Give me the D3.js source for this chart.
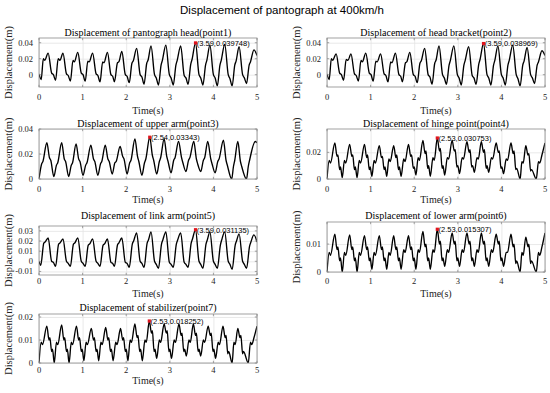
<!DOCTYPE html>
<html>
<head>
<meta charset="utf-8">
<script src="https://cdn.jsdelivr.net/npm/d3@7"></script>
<style>
  body { margin: 0; background: #fff; }
  svg { display: block; }
</style>
</head>
<body>
<svg id="fig" width="550" height="393"></svg>
<script>
`use strict`;

// --- data: [time (s), displacement (m)] ---

const head1 = [
  [0.00, 0.001], [0.05, -0.006], [0.10, 0.020], [0.13, 0.018], [0.21, 0.027], [0.29, 0.002], [0.33, 0.000], [0.38, -0.007],
  [0.44, 0.020], [0.48, 0.018], [0.55, 0.027], [0.63, 0.001], [0.67, -0.001], [0.72, -0.008],
  [0.78, 0.018], [0.81, 0.016], [0.89, 0.028], [0.97, 0.002], [1.01, 0.000], [1.06, -0.008],
  [1.12, 0.017], [1.15, 0.016], [1.23, 0.027], [1.31, 0.001], [1.35, -0.001], [1.40, -0.009],
  [1.46, 0.016], [1.49, 0.015], [1.57, 0.028], [1.65, 0.000], [1.69, -0.002], [1.73, -0.009],
  [1.80, 0.015], [1.83, 0.016], [1.90, 0.029], [1.98, 0.000], [2.02, -0.002], [2.07, -0.010],
  [2.13, 0.014], [2.16, 0.017], [2.24, 0.033], [2.32, 0.000], [2.36, -0.003], [2.41, -0.012],
  [2.47, 0.014], [2.50, 0.018], [2.57, 0.036], [2.65, 0.000], [2.69, -0.004], [2.74, -0.013],
  [2.80, 0.012], [2.83, 0.018], [2.91, 0.037], [2.99, 0.000], [3.03, -0.004], [3.08, -0.013],
  [3.14, 0.012], [3.17, 0.018], [3.25, 0.036], [3.33, -0.001], [3.37, -0.004], [3.42, -0.012],
  [3.48, 0.013], [3.51, 0.019], [3.59, 0.039748], [3.67, 0.000], [3.71, -0.004], [3.76, -0.013],
  [3.82, 0.012], [3.85, 0.018], [3.92, 0.037], [4.00, 0.000], [4.04, -0.004], [4.09, -0.014],
  [4.15, 0.012], [4.18, 0.018], [4.26, 0.038], [4.34, 0.000], [4.38, -0.005], [4.43, -0.014],
  [4.49, 0.012], [4.52, 0.017], [4.59, 0.035], [4.67, 0.000], [4.71, -0.004], [4.76, -0.011],
  [4.82, 0.012], [4.85, 0.016], [4.93, 0.031], [5.00, 0.024]
];

const bracket2 = [
  [0.00, 0.001], [0.05, -0.006], [0.10, 0.020], [0.13, 0.018], [0.21, 0.026], [0.29, 0.002], [0.33, 0.000], [0.38, -0.007],
  [0.44, 0.019], [0.48, 0.018], [0.55, 0.026], [0.63, 0.001], [0.67, -0.001], [0.72, -0.008],
  [0.78, 0.018], [0.81, 0.016], [0.89, 0.027], [0.97, 0.002], [1.01, 0.000], [1.06, -0.008],
  [1.12, 0.017], [1.15, 0.016], [1.23, 0.026], [1.31, 0.001], [1.35, -0.001], [1.40, -0.009],
  [1.46, 0.016], [1.49, 0.015], [1.57, 0.027], [1.65, 0.000], [1.69, -0.002], [1.73, -0.009],
  [1.80, 0.015], [1.83, 0.016], [1.90, 0.028], [1.98, 0.000], [2.02, -0.002], [2.07, -0.010],
  [2.13, 0.014], [2.16, 0.017], [2.24, 0.033], [2.32, 0.000], [2.36, -0.003], [2.41, -0.012],
  [2.47, 0.014], [2.50, 0.018], [2.57, 0.036], [2.65, 0.000], [2.69, -0.004], [2.74, -0.012],
  [2.80, 0.012], [2.83, 0.018], [2.91, 0.036], [2.99, 0.000], [3.03, -0.004], [3.08, -0.013],
  [3.14, 0.012], [3.17, 0.018], [3.25, 0.035], [3.33, -0.001], [3.37, -0.004], [3.42, -0.012],
  [3.48, 0.013], [3.51, 0.019], [3.59, 0.038969], [3.67, 0.000], [3.71, -0.004], [3.76, -0.013],
  [3.82, 0.012], [3.85, 0.018], [3.92, 0.036], [4.00, 0.000], [4.04, -0.004], [4.09, -0.013],
  [4.15, 0.012], [4.18, 0.018], [4.26, 0.037], [4.34, 0.000], [4.38, -0.005], [4.43, -0.014],
  [4.49, 0.012], [4.52, 0.017], [4.59, 0.034], [4.67, 0.000], [4.71, -0.004], [4.76, -0.011],
  [4.82, 0.012], [4.85, 0.016], [4.93, 0.030], [5.00, 0.024]
];

const upperArm3 = [
  [0.00, 0.000], [0.06, 0.012], [0.09, 0.014], [0.18, 0.029], [0.24, 0.017], [0.27, 0.015], [0.34, 0.002],
  [0.40, 0.011], [0.43, 0.013], [0.52, 0.029], [0.58, 0.016], [0.61, 0.014], [0.68, 0.002],
  [0.74, 0.011], [0.77, 0.013], [0.85, 0.028], [0.91, 0.016], [0.94, 0.014], [1.01, 0.003],
  [1.07, 0.011], [1.10, 0.013], [1.19, 0.027], [1.25, 0.016], [1.28, 0.014], [1.35, 0.003],
  [1.41, 0.012], [1.44, 0.014], [1.52, 0.027], [1.58, 0.016], [1.61, 0.014], [1.68, 0.004],
  [1.74, 0.013], [1.77, 0.014], [1.86, 0.026], [1.92, 0.018], [1.95, 0.016], [2.02, 0.004],
  [2.08, 0.013], [2.11, 0.015], [2.20, 0.032], [2.26, 0.018], [2.29, 0.014], [2.36, 0.003],
  [2.42, 0.013], [2.45, 0.016], [2.54, 0.03343], [2.60, 0.019], [2.63, 0.015], [2.70, 0.004],
  [2.76, 0.014], [2.79, 0.017], [2.87, 0.032], [2.93, 0.018], [2.96, 0.014], [3.03, 0.005],
  [3.09, 0.015], [3.12, 0.017], [3.20, 0.030], [3.27, 0.017], [3.30, 0.013], [3.37, 0.006],
  [3.43, 0.015], [3.46, 0.017], [3.55, 0.030], [3.61, 0.016], [3.64, 0.012], [3.71, 0.006],
  [3.77, 0.015], [3.80, 0.017], [3.87, 0.030], [3.94, 0.016], [3.97, 0.012], [4.04, 0.005],
  [4.10, 0.014], [4.13, 0.016], [4.23, 0.031], [4.29, 0.015], [4.32, 0.011], [4.42, 0.000],
  [4.46, 0.010], [4.49, 0.015], [4.56, 0.030], [4.62, 0.014], [4.65, 0.010], [4.76, 0.000],
  [4.80, 0.010], [4.83, 0.015], [4.96, 0.030], [5.00, 0.029]
];

const hinge4 = [
  [0.00, 0.000], [0.05, 0.014], [0.08, 0.012], [0.18, 0.027], [0.23, 0.017], [0.25, 0.018], [0.29, 0.007], [0.31, 0.009], [0.35, 0.001],
  [0.40, 0.014], [0.43, 0.012], [0.52, 0.026], [0.57, 0.017], [0.59, 0.018], [0.63, 0.007], [0.65, 0.009], [0.69, 0.001],
  [0.74, 0.014], [0.77, 0.012], [0.86, 0.026], [0.91, 0.016], [0.93, 0.018], [0.97, 0.007], [0.99, 0.009], [1.03, 0.002],
  [1.08, 0.014], [1.11, 0.012], [1.20, 0.025], [1.25, 0.016], [1.27, 0.017], [1.31, 0.007], [1.33, 0.009], [1.37, 0.002],
  [1.42, 0.015], [1.45, 0.013], [1.53, 0.025], [1.58, 0.016], [1.60, 0.018], [1.64, 0.007], [1.66, 0.009], [1.70, 0.002],
  [1.76, 0.015], [1.79, 0.013], [1.87, 0.026], [1.92, 0.017], [1.94, 0.018], [1.98, 0.008], [2.00, 0.009], [2.04, 0.003],
  [2.09, 0.016], [2.12, 0.014], [2.20, 0.029], [2.25, 0.019], [2.27, 0.021], [2.31, 0.008], [2.33, 0.010], [2.37, 0.002],
  [2.43, 0.016], [2.46, 0.014], [2.53, 0.030753], [2.58, 0.021], [2.60, 0.023], [2.64, 0.008], [2.66, 0.010], [2.70, 0.003],
  [2.76, 0.016], [2.79, 0.015], [2.87, 0.029], [2.92, 0.021], [2.94, 0.022], [2.98, 0.009], [3.00, 0.010], [3.04, 0.004],
  [3.10, 0.016], [3.13, 0.015], [3.21, 0.028], [3.26, 0.020], [3.28, 0.022], [3.32, 0.009], [3.34, 0.010], [3.38, 0.005],
  [3.44, 0.016], [3.47, 0.015], [3.54, 0.028], [3.59, 0.020], [3.61, 0.022], [3.65, 0.008], [3.67, 0.010], [3.71, 0.005],
  [3.77, 0.016], [3.80, 0.015], [3.88, 0.027], [3.93, 0.020], [3.95, 0.021], [3.99, 0.008], [4.01, 0.009], [4.05, 0.004],
  [4.11, 0.015], [4.14, 0.014], [4.22, 0.027], [4.27, 0.019], [4.29, 0.021], [4.33, 0.007], [4.35, 0.008], [4.43, 0.000],
  [4.47, 0.013], [4.50, 0.012], [4.56, 0.025], [4.61, 0.018], [4.63, 0.019], [4.67, 0.006], [4.69, 0.007], [4.80, 0.000],
  [4.85, 0.013], [4.88, 0.012], [4.93, 0.018], [5.00, 0.027]
];

const linkArm5 = [
  [0.00, 0.000], [0.04, -0.004], [0.11, 0.018], [0.14, 0.019], [0.21, 0.023], [0.29, 0.000], [0.33, -0.001], [0.38, -0.005],
  [0.45, 0.017], [0.48, 0.018], [0.55, 0.022], [0.63, 0.000], [0.67, -0.002], [0.72, -0.005],
  [0.79, 0.017], [0.82, 0.018], [0.89, 0.023], [0.97, 0.000], [1.01, -0.002], [1.06, -0.005],
  [1.13, 0.016], [1.16, 0.017], [1.23, 0.022], [1.31, 0.000], [1.35, -0.002], [1.40, -0.005],
  [1.47, 0.016], [1.50, 0.017], [1.57, 0.022], [1.65, -0.001], [1.69, -0.002], [1.73, -0.005],
  [1.80, 0.016], [1.83, 0.018], [1.90, 0.023], [1.98, -0.001], [2.02, -0.002], [2.07, -0.006],
  [2.14, 0.017], [2.17, 0.020], [2.24, 0.028], [2.32, 0.000], [2.36, -0.002], [2.41, -0.006],
  [2.48, 0.018], [2.51, 0.021], [2.57, 0.029], [2.65, 0.000], [2.69, -0.003], [2.74, -0.007],
  [2.81, 0.017], [2.84, 0.021], [2.91, 0.029], [2.99, -0.001], [3.03, -0.003], [3.08, -0.006],
  [3.15, 0.017], [3.18, 0.021], [3.25, 0.028], [3.33, -0.001], [3.37, -0.003], [3.42, -0.006],
  [3.49, 0.018], [3.52, 0.022], [3.59, 0.031135], [3.67, 0.000], [3.71, -0.003], [3.76, -0.007],
  [3.83, 0.017], [3.86, 0.021], [3.92, 0.029], [4.00, 0.000], [4.04, -0.003], [4.09, -0.007],
  [4.16, 0.016], [4.19, 0.021], [4.26, 0.029], [4.34, 0.000], [4.38, -0.003], [4.43, -0.008],
  [4.50, 0.016], [4.53, 0.020], [4.59, 0.027], [4.67, 0.000], [4.71, -0.003], [4.76, -0.007],
  [4.83, 0.015], [4.86, 0.019], [4.93, 0.026], [5.00, 0.019]
];

const lowerArm6 = [
  [0.00, 0.000], [0.05, 0.007], [0.08, 0.006], [0.18, 0.0135], [0.23, 0.008], [0.25, 0.009], [0.29, 0.004], [0.31, 0.005], [0.35, 0.000],
  [0.40, 0.007], [0.43, 0.006], [0.52, 0.0133], [0.57, 0.008], [0.59, 0.009], [0.63, 0.004], [0.65, 0.005], [0.69, 0.000],
  [0.74, 0.007], [0.77, 0.006], [0.86, 0.013], [0.91, 0.008], [0.93, 0.009], [0.97, 0.004], [0.99, 0.005], [1.03, 0.001],
  [1.08, 0.007], [1.11, 0.006], [1.20, 0.013], [1.25, 0.008], [1.27, 0.009], [1.31, 0.004], [1.33, 0.005], [1.37, 0.001],
  [1.42, 0.007], [1.45, 0.006], [1.53, 0.013], [1.58, 0.008], [1.60, 0.009], [1.64, 0.004], [1.66, 0.005], [1.70, 0.001],
  [1.76, 0.008], [1.79, 0.007], [1.87, 0.013], [1.92, 0.008], [1.94, 0.009], [1.98, 0.004], [2.00, 0.005], [2.04, 0.001],
  [2.09, 0.008], [2.12, 0.007], [2.20, 0.0145], [2.25, 0.009], [2.27, 0.010], [2.31, 0.004], [2.33, 0.005], [2.37, 0.001],
  [2.43, 0.008], [2.46, 0.007], [2.53, 0.015307], [2.58, 0.010], [2.60, 0.011], [2.64, 0.004], [2.66, 0.005], [2.70, 0.002],
  [2.76, 0.008], [2.79, 0.007], [2.87, 0.014], [2.92, 0.010], [2.94, 0.011], [2.98, 0.004], [3.00, 0.005], [3.04, 0.002],
  [3.10, 0.008], [3.13, 0.007], [3.21, 0.014], [3.26, 0.010], [3.28, 0.011], [3.32, 0.004], [3.34, 0.005], [3.38, 0.002],
  [3.44, 0.008], [3.47, 0.007], [3.54, 0.014], [3.59, 0.010], [3.61, 0.011], [3.65, 0.004], [3.67, 0.005], [3.71, 0.002],
  [3.77, 0.008], [3.80, 0.007], [3.88, 0.0135], [3.93, 0.010], [3.95, 0.011], [3.99, 0.004], [4.01, 0.005], [4.05, 0.002],
  [4.11, 0.007], [4.14, 0.007], [4.22, 0.0135], [4.27, 0.009], [4.29, 0.010], [4.33, 0.003], [4.35, 0.004], [4.43, 0.000],
  [4.47, 0.007], [4.50, 0.006], [4.56, 0.0125], [4.61, 0.009], [4.63, 0.010], [4.67, 0.003], [4.69, 0.004], [4.80, 0.000],
  [4.85, 0.007], [4.88, 0.006], [4.93, 0.009], [5.00, 0.014]
];

const stabilizer7 = [
  [0.00, 0.000], [0.05, 0.009], [0.08, 0.008], [0.18, 0.016], [0.23, 0.010], [0.25, 0.011], [0.29, 0.005], [0.31, 0.006], [0.35, 0.000],
  [0.40, 0.009], [0.43, 0.008], [0.52, 0.0165], [0.57, 0.010], [0.59, 0.011], [0.63, 0.005], [0.65, 0.006], [0.69, 0.000],
  [0.74, 0.009], [0.77, 0.008], [0.86, 0.016], [0.91, 0.010], [0.93, 0.011], [0.97, 0.005], [0.99, 0.006], [1.03, 0.001],
  [1.08, 0.009], [1.11, 0.008], [1.20, 0.015], [1.25, 0.010], [1.27, 0.011], [1.31, 0.005], [1.33, 0.006], [1.37, 0.001],
  [1.42, 0.009], [1.45, 0.008], [1.53, 0.0155], [1.58, 0.010], [1.60, 0.011], [1.64, 0.005], [1.66, 0.006], [1.70, 0.001],
  [1.76, 0.009], [1.79, 0.008], [1.87, 0.015], [1.92, 0.010], [1.94, 0.011], [1.98, 0.005], [2.00, 0.006], [2.04, 0.001],
  [2.09, 0.010], [2.12, 0.009], [2.20, 0.017], [2.25, 0.011], [2.27, 0.012], [2.31, 0.005], [2.33, 0.006], [2.37, 0.001],
  [2.43, 0.010], [2.46, 0.009], [2.53, 0.018252], [2.58, 0.013], [2.60, 0.014], [2.64, 0.005], [2.66, 0.006], [2.70, 0.002],
  [2.76, 0.010], [2.79, 0.009], [2.87, 0.017], [2.92, 0.013], [2.94, 0.014], [2.98, 0.005], [3.00, 0.006], [3.04, 0.002],
  [3.10, 0.010], [3.13, 0.009], [3.21, 0.017], [3.26, 0.012], [3.28, 0.013], [3.32, 0.005], [3.34, 0.006], [3.38, 0.003],
  [3.44, 0.010], [3.47, 0.009], [3.54, 0.017], [3.59, 0.012], [3.61, 0.013], [3.65, 0.005], [3.67, 0.006], [3.71, 0.003],
  [3.77, 0.010], [3.80, 0.009], [3.88, 0.016], [3.93, 0.012], [3.95, 0.013], [3.99, 0.005], [4.01, 0.006], [4.05, 0.002],
  [4.11, 0.009], [4.14, 0.008], [4.22, 0.016], [4.27, 0.011], [4.29, 0.012], [4.33, 0.004], [4.35, 0.005], [4.43, 0.000],
  [4.47, 0.009], [4.50, 0.008], [4.56, 0.015], [4.61, 0.011], [4.63, 0.012], [4.67, 0.004], [4.69, 0.005], [4.80, 0.000],
  [4.85, 0.009], [4.88, 0.008], [4.93, 0.011], [5.00, 0.016]
];

const series = [head1, bracket2, upperArm3, hinge4, linkArm5, lowerArm6, stabilizer7];

const titles = [
  `Displacement of pantograph head(point1)`,
  `Displacement of head bracket(point2)`,
  `Displacement of upper arm(point3)`,
  `Displacement of hinge point(point4)`,
  `Displacement of link arm(point5)`,
  `Displacement of lower arm(point6)`,
  `Displacement of stabilizer(point7)`
];

// labelled maxima
const peaks = [[3.59, 0.039748], [3.59, 0.038969], [2.54, 0.03343], [2.53, 0.030753], [3.59, 0.031135], [2.53, 0.015307], [2.53, 0.018252]];

const xTicks = [0, 1, 2, 3, 4, 5];

const yTicks = [
  [0, 0.02, 0.04], [0, 0.02, 0.04], [0, 0.02, 0.04], [0, 0.02],
  [-0.01, 0, 0.01, 0.02, 0.03], [0, 0.01], [0, 0.01, 0.02]
];

const yLimits = [
  [-0.0154, 0.0459], [-0.0154, 0.0459], [0, 0.04], [0, 0.0375],
  [-0.0135, 0.0348], [0, 0.0179], [0, 0.0213]
];

const mainTitle = `Displacement of pantograph at 400km/h`;

// --- layout ---

const W = 218;

const boxes = [
  {x: 39,  top: 38,  bottom: 87,  title: 35.5,  tick: 100, xlab: 113.5},
  {x: 327, top: 38,  bottom: 87,  title: 35.5,  tick: 100, xlab: 113.5},
  {x: 39,  top: 129, bottom: 179, title: 126.5, tick: 192, xlab: 203},
  {x: 327, top: 129, bottom: 179, title: 126.5, tick: 192, xlab: 203},
  {x: 39,  top: 226, bottom: 275, title: 218.5, tick: 284, xlab: 296.5},
  {x: 327, top: 222, bottom: 272, title: 218.5, tick: 284, xlab: 296.5},
  {x: 39,  top: 314, bottom: 363, title: 310.5, tick: 373, xlab: 383.5}
];

const serif = `"Liberation Serif", "Times New Roman", serif`;
const sans = `"Liberation Sans", Arial, sans-serif`;

const svg = d3.select(`#fig`);

svg.append(`text`)
  .attr(`x`, 282)
  .attr(`y`, 13.5)
  .attr(`text-anchor`, `middle`)
  .style(`font-family`, sans)
  .style(`font-size`, `11.5px`)
  .style(`fill`, `#000`)
  .text(mainTitle);

series.forEach((data, i) => {

  const b = boxes[i];

  const x = d3.scaleLinear().domain([0, 5]).range([b.x, b.x + W]);
  const y = d3.scaleLinear().domain(yLimits[i]).range([b.bottom, b.top]);

  const g = svg.append(`g`);

  // grid
  g.append(`g`)
    .attr(`transform`, `translate(0,${b.bottom})`)
    .call(d3.axisBottom(x).tickValues(xTicks).tickSize(b.top - b.bottom).tickFormat(``))
    .call(s => s.select(`.domain`).remove())
    .call(s => s.selectAll(`line`).attr(`stroke`, `#e3e3e3`).attr(`stroke-width`, 0.8));

  g.append(`g`)
    .attr(`transform`, `translate(${b.x},0)`)
    .call(d3.axisLeft(y).tickValues(yTicks[i]).tickSize(-W).tickFormat(``))
    .call(s => s.select(`.domain`).remove())
    .call(s => s.selectAll(`line`).attr(`stroke`, `#e3e3e3`).attr(`stroke-width`, 0.8));

  // trace
  const clipId = `clip${i}`;

  g.append(`clipPath`).attr(`id`, clipId)
    .append(`rect`)
    .attr(`x`, b.x).attr(`y`, b.top)
    .attr(`width`, W).attr(`height`, b.bottom - b.top);

  g.append(`path`)
    .datum(data)
    .attr(`clip-path`, `url(#${clipId})`)
    .attr(`fill`, `none`)
    .attr(`stroke`, `#000`)
    .attr(`stroke-width`, 1.35)
    .attr(`stroke-linejoin`, `round`)
    .attr(`d`, d3.line().x(d => x(d[0])).y(d => y(d[1])).curve(d3.curveMonotoneX));

  // axes box
  g.append(`rect`)
    .attr(`x`, b.x).attr(`y`, b.top)
    .attr(`width`, W).attr(`height`, b.bottom - b.top)
    .attr(`fill`, `none`)
    .attr(`stroke`, `#8a8a8a`)
    .attr(`stroke-width`, 0.8);

  // inner ticks
  const tk = 2.2;

  g.selectAll(`line.xt`).data(xTicks).enter().append(`line`)
    .attr(`x1`, d => x(d)).attr(`x2`, d => x(d))
    .attr(`y1`, b.bottom).attr(`y2`, b.bottom - tk)
    .attr(`stroke`, `#8a8a8a`).attr(`stroke-width`, 0.8);

  g.selectAll(`line.xt2`).data(xTicks).enter().append(`line`)
    .attr(`x1`, d => x(d)).attr(`x2`, d => x(d))
    .attr(`y1`, b.top).attr(`y2`, b.top + tk)
    .attr(`stroke`, `#8a8a8a`).attr(`stroke-width`, 0.8);

  g.selectAll(`line.yt`).data(yTicks[i]).enter().append(`line`)
    .attr(`x1`, b.x).attr(`x2`, b.x + tk)
    .attr(`y1`, d => y(d)).attr(`y2`, d => y(d))
    .attr(`stroke`, `#8a8a8a`).attr(`stroke-width`, 0.8);

  g.selectAll(`line.yt2`).data(yTicks[i]).enter().append(`line`)
    .attr(`x1`, b.x + W).attr(`x2`, b.x + W - tk)
    .attr(`y1`, d => y(d)).attr(`y2`, d => y(d))
    .attr(`stroke`, `#8a8a8a`).attr(`stroke-width`, 0.8);

  // tick labels
  g.selectAll(`text.xl`).data(xTicks).enter().append(`text`)
    .attr(`x`, d => x(d))
    .attr(`y`, b.tick)
    .attr(`text-anchor`, `middle`)
    .style(`font-family`, serif)
    .style(`font-size`, `8.5px`)
    .style(`fill`, `#222`)
    .text(d => d);

  g.selectAll(`text.yl`).data(yTicks[i]).enter().append(`text`)
    .attr(`x`, b.x - 6)
    .attr(`y`, d => y(d) + 3)
    .attr(`text-anchor`, `end`)
    .style(`font-family`, serif)
    .style(`font-size`, `8.5px`)
    .style(`fill`, `#222`)
    .text(d => d);

  // titles and labels
  g.append(`text`)
    .attr(`x`, b.x + W / 2)
    .attr(`y`, b.title)
    .attr(`text-anchor`, `middle`)
    .style(`font-family`, serif)
    .style(`font-size`, `10px`)
    .style(`fill`, `#000`)
    .text(titles[i]);

  g.append(`text`)
    .attr(`x`, b.x + W / 2)
    .attr(`y`, b.xlab)
    .attr(`text-anchor`, `middle`)
    .style(`font-family`, serif)
    .style(`font-size`, `10px`)
    .style(`fill`, `#222`)
    .text(`Time(s)`);

  g.append(`text`)
    .attr(`transform`, `translate(${b.x - 27},${(b.top + b.bottom) / 2}) rotate(-90)`)
    .attr(`text-anchor`, `middle`)
    .style(`font-family`, serif)
    .style(`font-size`, `10.5px`)
    .style(`fill`, `#222`)
    .text(`Displacement(m)`);

  // peak marker + label
  const p = peaks[i];

  g.append(`rect`)
    .attr(`x`, x(p[0]) - 1.6).attr(`y`, y(p[1]) - 1.6)
    .attr(`width`, 3.2).attr(`height`, 3.2)
    .attr(`fill`, `#e0141e`);

  g.append(`text`)
    .attr(`x`, x(p[0]) + 1.2)
    .attr(`y`, y(p[1]) + 2.8)
    .style(`font-family`, sans)
    .style(`font-size`, `7.5px`)
    .style(`fill`, `#000`)
    .text(`(${p[0]},${p[1]})`);
});
</script>
</body>
</html>
